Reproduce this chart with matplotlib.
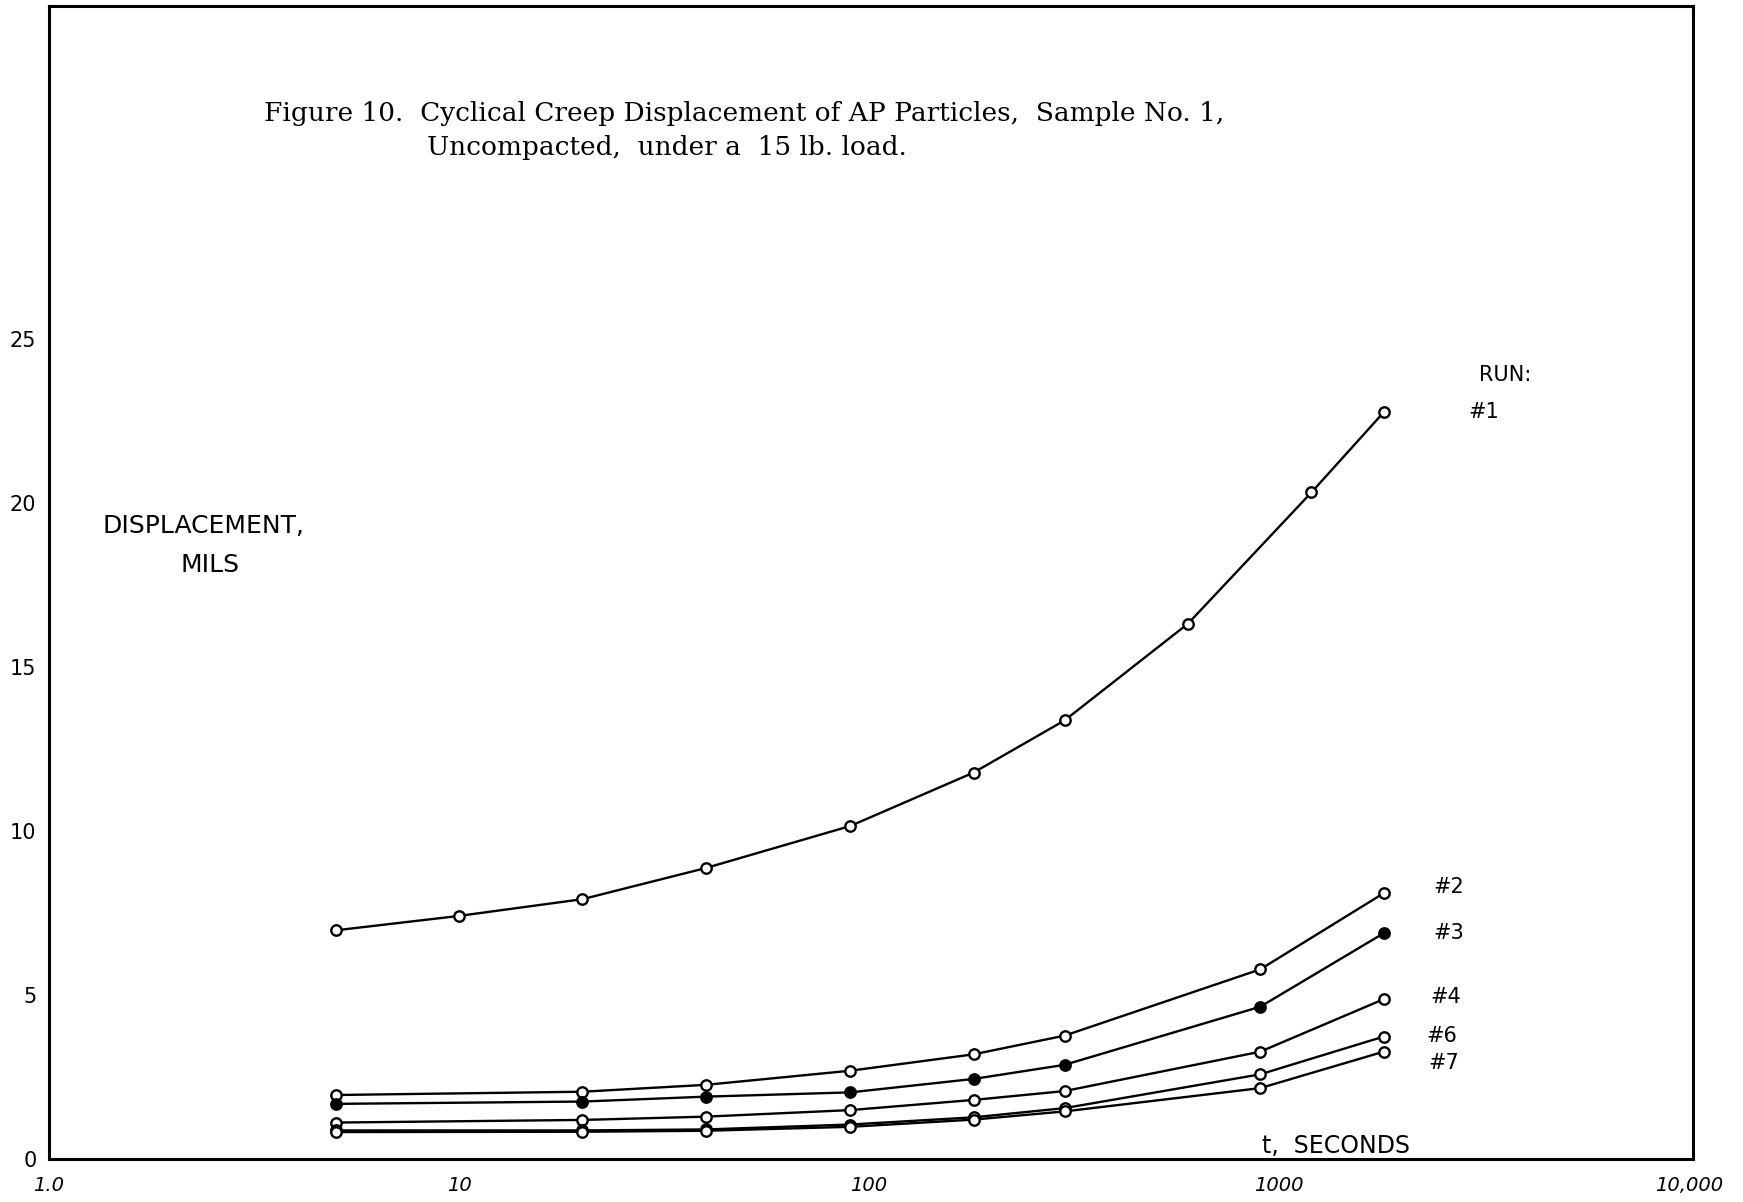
import matplotlib
matplotlib.use("Agg")
import matplotlib.pyplot as plt
from matplotlib.ticker import FixedLocator, NullLocator

# time points (seconds)
t_run1 = [5, 10, 20, 40, 90, 180, 300, 600, 1200, 1800]
t_runs = [5, 20, 40, 90, 180, 300, 900, 1800]

# displacement, mils
run1 = [6.97, 7.41, 7.92, 8.87, 10.15, 11.78, 13.37, 16.32, 20.32, 22.76]
run2 = [1.95, 2.05, 2.26, 2.69, 3.19, 3.76, 5.78, 8.10]
run3 = [1.68, 1.75, 1.90, 2.03, 2.44, 2.87, 4.64, 6.88]
run4 = [1.11, 1.19, 1.29, 1.49, 1.80, 2.07, 3.27, 4.87]
run6 = [0.87, 0.87, 0.90, 1.05, 1.27, 1.55, 2.58, 3.73]
run7 = [0.82, 0.83, 0.86, 0.98, 1.20, 1.45, 2.16, 3.27]

x_ticks = [1, 10, 100, 1000, 10000]
x_tick_labels = ["1.0", "10", "100", "1000", "10,000"]
y_ticks = [0, 5, 10, 15, 20, 25]

fig = plt.figure(figsize=(17.43, 12.02), dpi=100)
ax = fig.add_axes([0.0281, 0.0358, 0.9432, 0.9592])

hand = "DejaVu Sans"

def draw(t, y, filled=False):
    ax.plot(t, y, color="black", lw=1.7, marker="o", ms=7.5,
            mfc="black" if filled else "white", mec="black", mew=1.7, zorder=3)

draw(t_run1, run1)
draw(t_runs, run2)
draw(t_runs, run3, filled=True)
draw(t_runs, run4)
draw(t_runs, run6)
draw(t_runs, run7)

ax.set_xscale("log")
ax.set_xlim(1, 10230)
ax.set_ylim(0, 35.15)

ax.xaxis.set_major_locator(FixedLocator(x_ticks))
ax.xaxis.set_minor_locator(NullLocator())
ax.set_xticklabels(x_tick_labels, fontfamily=hand, fontsize=14, style="italic")
ax.set_yticks(y_ticks)
ax.set_yticklabels([str(v) for v in y_ticks], fontfamily=hand, fontsize=15)
ax.tick_params(axis="both", which="both", length=0)
ax.tick_params(axis="x", pad=12)
ax.tick_params(axis="y", pad=9)

for s in ax.spines.values():
    s.set_linewidth(2.2)

# title inside the frame
ax.text(0.131, 0.907, "Figure 10.  Cyclical Creep Displacement of AP Particles,  Sample No. 1,",
        transform=ax.transAxes, fontfamily="DejaVu Serif", fontsize=19, va="center", ha="left")
ax.text(0.230, 0.877, "Uncompacted,  under a  15 lb. load.",
        transform=ax.transAxes, fontfamily="DejaVu Serif", fontsize=19, va="center", ha="left")

# axis captions
ax.text(0.094, 0.549, "DISPLACEMENT,", transform=ax.transAxes,
        fontfamily=hand, fontsize=18, ha="center", va="center")
ax.text(0.098, 0.515, "MILS", transform=ax.transAxes,
        fontfamily=hand, fontsize=18, ha="center", va="center")
ax.text(0.783, 0.011, "t,  SECONDS", transform=ax.transAxes,
        fontfamily=hand, fontsize=17, ha="center", va="center")

# run labels
ax.text(3570, 23.9, "RUN:", fontfamily=hand, fontsize=15, ha="center", va="center")
run_labels = [("#1", run1, 3160, 0.0), ("#2", run2, 2600, 0.2), ("#3", run3, 2600, 0.0),
              ("#4", run4, 2550, 0.07), ("#6", run6, 2500, 0.02), ("#7", run7, 2520, -0.34)]
for lab, vals, xpos, dy in run_labels:
    ax.text(xpos, vals[-1] + dy, lab, fontfamily=hand, fontsize=15, ha="center", va="center")

fig.savefig("out.png", dpi=100)
